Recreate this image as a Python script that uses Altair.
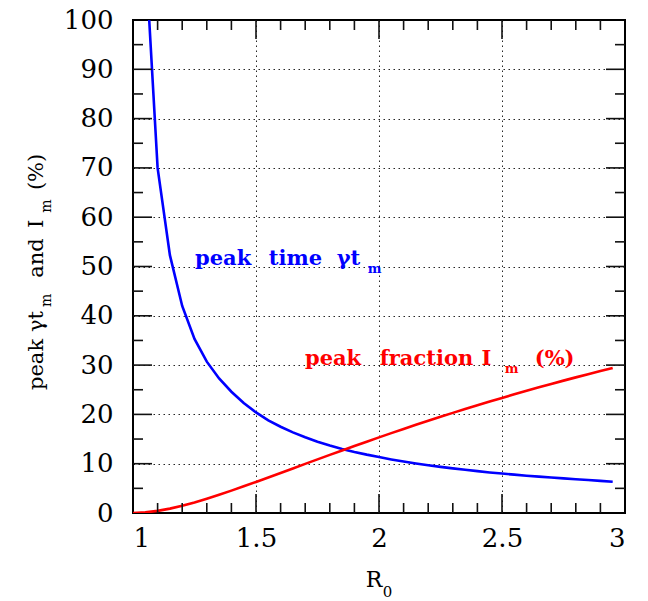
import altair as alt
import pandas as pd

# ---- data ----
R_fraction = [1.00, 1.05, 1.10, 1.15, 1.20, 1.25, 1.30, 1.35, 1.40, 1.45,
              1.50, 1.55, 1.60, 1.65, 1.70, 1.75, 1.80, 1.85, 1.90, 1.95,
              2.00, 2.05, 2.10, 2.15, 2.20, 2.25, 2.30, 2.35, 2.40, 2.45,
              2.50, 2.55, 2.60, 2.65, 2.70, 2.75, 2.80, 2.85, 2.90, 2.95]
peak_fraction = [0.0, 0.12, 0.43, 0.89, 1.47, 2.15, 2.90, 3.70, 4.54, 5.41,
                 6.30, 7.21, 8.13, 9.04, 9.96, 10.88, 11.79, 12.69, 13.59, 14.47,
                 15.34, 16.20, 17.05, 17.89, 18.71, 19.51, 20.31, 21.09, 21.86, 22.61,
                 23.35, 24.08, 24.79, 25.49, 26.18, 26.85, 27.51, 28.16, 28.80, 29.43]

R_time = [1.05, 1.10, 1.15, 1.20, 1.25, 1.30, 1.35, 1.40, 1.45,
          1.50, 1.55, 1.60, 1.65, 1.70, 1.75, 1.80, 1.85, 1.90, 1.95,
          2.00, 2.05, 2.10, 2.15, 2.20, 2.25, 2.30, 2.35, 2.40, 2.45,
          2.50, 2.55, 2.60, 2.65, 2.70, 2.75, 2.80, 2.85, 2.90, 2.95]
peak_time = [114.0, 70.0, 52.3, 42.0, 35.3, 30.7, 27.3, 24.6, 22.3,
             20.4, 18.8, 17.5, 16.35, 15.36, 14.47, 13.69, 13.0, 12.39, 11.84,
             11.35, 10.87, 10.43, 10.03, 9.68, 9.36, 9.05, 8.76, 8.49, 8.23,
             8.0, 7.78, 7.57, 7.38, 7.2, 7.02, 6.85, 6.68, 6.52, 6.35]

x_labels = [1.0, 1.5, 2.0, 2.5, 3.0]
y_labels = [0, 10, 20, 30, 40, 50, 60, 70, 80, 90, 100]
x_major = [1.5, 2.0, 2.5]
x_minor = [1.1, 1.2, 1.3, 1.4, 1.6, 1.7, 1.8, 1.9, 2.1, 2.2, 2.3, 2.4, 2.6, 2.7, 2.8, 2.9]
y_major = [10, 20, 30, 40, 50, 60, 70, 80, 90]
y_minor = [5, 15, 25, 35, 45, 55, 65, 75, 85, 95]

# ---- annotation text (anchors in data units) ----
blue_words = ["peak", "time", "γt"]
blue_word_x = [1.252, 1.552, 1.828]
blue_word_y = [50.3, 50.3, 50.3]
blue_sub = ["m"]
blue_sub_x = [1.954]
blue_sub_y = [48.7]

red_words = ["peak", "fraction", "I", "(%)"]
red_word_x = [1.699, 2.003, 2.417, 2.633]
red_word_y = [30.0, 30.0, 30.0, 30.0]
red_sub = ["m"]
red_sub_x = [2.511]
red_sub_y = [28.4]

ytitle_words = ["peak", "γt", "and", "I", "(%)"]
ytitle_word_x = [0.6345] * 5
ytitle_word_y = [24.95, 36.7, 47.7, 57.8, 65.5]
ytitle_sub = ["m", "m"]
ytitle_sub_x = [0.665, 0.665]
ytitle_sub_y = [41.8, 60.9]

xtitle_word = ["R"]
xtitle_word_x = [1.946]
xtitle_word_y = [-15.0]
xtitle_sub = ["0"]
xtitle_sub_x = [2.015]
xtitle_sub_y = [-17.0]

W, H = 492, 493
SERIF = "DejaVu Serif"

df_lines = pd.concat([
    pd.DataFrame({"R": R_time, "v": peak_time, "series": "time"}),
    pd.DataFrame({"R": R_fraction, "v": peak_fraction, "series": "fraction"}),
])

xs = alt.Scale(domain=[1, 3], nice=False, zero=False)
ys = alt.Scale(domain=[0, 100], nice=False, zero=False)

lines = alt.Chart(df_lines).mark_line(clip=True, strokeWidth=2.6).encode(
    x=alt.X("R:Q", scale=xs, axis=alt.Axis(values=x_labels, format="~g",
                                           labelPadding=12)),
    y=alt.Y("v:Q", scale=ys, axis=alt.Axis(values=y_labels, format="d",
                                           labelPadding=20)),
    color=alt.Color("series:N", scale=alt.Scale(domain=["time", "fraction"],
                                                range=["#0000ff", "#ff0000"]),
                    legend=None),
    detail="series:N",
)


def xticks(vals, length, top):
    d = pd.DataFrame({"R": vals})
    if top:
        yv, y2v = alt.value(0), alt.value(length)
    else:
        yv, y2v = alt.value(H), alt.value(H - length)
    return alt.Chart(d).mark_rule(color="#111", strokeWidth=1.6).encode(
        x=alt.X("R:Q", scale=xs), y=yv, y2=y2v)


def yticks(vals, length, right):
    d = pd.DataFrame({"v": vals})
    if right:
        xv, x2v = alt.value(W), alt.value(W - length)
    else:
        xv, x2v = alt.value(0), alt.value(length)
    return alt.Chart(d).mark_rule(color="#111", strokeWidth=1.6).encode(
        y=alt.Y("v:Q", scale=ys), x=xv, x2=x2v)


tick_layers = [
    xticks(x_major, 19, False), xticks(x_minor, 10, False),
    xticks(x_major, 19, True), xticks(x_minor, 10, True),
    yticks(y_major, 19, False), yticks(y_minor, 10, False),
    yticks(y_major, 19, True), yticks(y_minor, 10, True),
]


def text_layer(words, xv, yv, color, size, weight="normal", angle=0, font=SERIF):
    d = pd.DataFrame({"R": xv, "v": yv, "t": words})
    return alt.Chart(d).mark_text(
        align="left", baseline="alphabetic", font=font, fontSize=size,
        fontWeight=weight, color=color, angle=angle,
    ).encode(
        x=alt.X("R:Q", scale=xs),
        y=alt.Y("v:Q", scale=ys),
        text="t:N",
    )


texts = [
    text_layer(blue_words, blue_word_x, blue_word_y, "#0000ff", 21, "bold"),
    text_layer(blue_sub, blue_sub_x, blue_sub_y, "#0000ff", 13, "bold"),
    text_layer(red_words, red_word_x, red_word_y, "#ff0000", 21, "bold"),
    text_layer(red_sub, red_sub_x, red_sub_y, "#ff0000", 13, "bold"),
    text_layer(ytitle_words, ytitle_word_x, ytitle_word_y, "black", 21, angle=270),
    text_layer(ytitle_sub, ytitle_sub_x, ytitle_sub_y, "black", 14, angle=270),
    text_layer(xtitle_word, xtitle_word_x, xtitle_word_y, "black", 22),
    text_layer(xtitle_sub, xtitle_sub_x, xtitle_sub_y, "black", 15),
]

chart = alt.layer(lines, *tick_layers, *texts).properties(
    width=W, height=H,
    autosize=alt.AutoSizeParams(type="none"),
    padding={"left": 133, "top": 20, "right": 648 - 133 - W, "bottom": 601 - 20 - H},
    background="white",
).configure_view(
    stroke="black", strokeWidth=2
).configure_axis(
    labelFont=SERIF, labelFontSize=26, labelColor="black",
    ticks=False, tickSize=0, domain=False, grid=True,
    gridDash=[1.5, 3.5], gridColor="#000000", gridWidth=1, gridOpacity=0.85,
    title=None,
)

chart.save("out.html", embed_options={"renderer": "svg", "actions": False})
